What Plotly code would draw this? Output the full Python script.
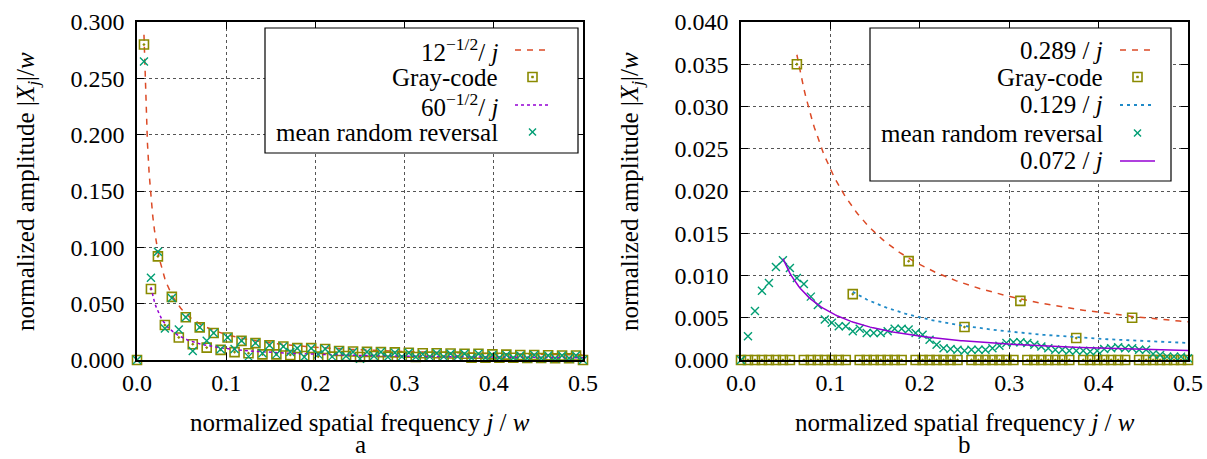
import plotly.graph_objects as go

# ---------------- data ----------------
w = 128
j = list(range(65))                      # spatial frequency index 0..64
tick_x = [0.0, 0.1, 0.2, 0.3, 0.4, 0.5]

# panel a
gray_a = [0, 0.280, 0.063, 0.092, 0.031, 0.056, 0.020, 0.038, 0.014, 0.029,
          0.011, 0.024, 0.009, 0.020, 0.007, 0.017, 0.006, 0.015, 0.005, 0.013,
          0.005, 0.012, 0.0045, 0.0105, 0.0035, 0.0105, 0.003, 0.0098, 0.003, 0.008,
          0.0035, 0.0075, 0.0027, 0.0072, 0.0035, 0.007, 0.003, 0.0068, 0.003, 0.0065,
          0.0027, 0.006, 0.003, 0.006, 0.003, 0.0058, 0.003, 0.0056, 0.002, 0.0055,
          0.002, 0.005, 0.002, 0.0048, 0.002, 0.0045, 0.0018, 0.0045, 0.0018, 0.0042,
          0.0016, 0.004, 0.0016, 0.004, 0]
random_a = [0, 0.265, 0.073, 0.096, 0.028, 0.055, 0.027, 0.038, 0.008, 0.029,
            0.017, 0.024, 0.0095, 0.020, 0.0098, 0.017, 0.003, 0.015, 0.006, 0.013,
            0.005, 0.012, 0.007, 0.0105, 0.0027, 0.0105, 0.005, 0.0098, 0.003, 0.008,
            0.0035, 0.007, 0.001, 0.007, 0.0035, 0.007, 0.0027, 0.0065, 0.003, 0.0065,
            0.0027, 0.005, 0.003, 0.006, 0.003, 0.0055, 0.003, 0.0055, 0.002, 0.0055,
            0.002, 0.0045, 0.002, 0.0045, 0.002, 0.004, 0.0015, 0.0045, 0.0015, 0.004,
            0.0015, 0.004, 0.0015, 0.004, 0]
coef_a = [12 ** -0.5, 60 ** -0.5]        # 12^-1/2 / j , 60^-1/2 / j
start_a = [1, 2]
tick_y_a = [0.0, 0.05, 0.10, 0.15, 0.20, 0.25, 0.30]

# panel b
gray_b = [0, 0, 0, 0, 0, 0, 0, 0, 0.035, 0,
          0, 0, 0, 0, 0, 0, 0.0078, 0, 0, 0,
          0, 0, 0, 0, 0.0117, 0, 0, 0, 0, 0,
          0, 0, 0.0039, 0, 0, 0, 0, 0, 0, 0,
          0.0070, 0, 0, 0, 0, 0, 0, 0, 0.0026, 0,
          0, 0, 0, 0, 0, 0, 0.0050, 0, 0, 0,
          0, 0, 0, 0, 0]
random_b = [0, 0.0028, 0.0058, 0.0082, 0.0091, 0.011, 0.0118, 0.0109, 0.0097, 0.009,
            0.0075, 0.0065, 0.0048, 0.0044, 0.0040, 0.0040, 0.0034, 0.0037, 0.0032, 0.0032,
            0.0032, 0.0034, 0.0037, 0.0037, 0.0036, 0.0032, 0.003, 0.0024, 0.0018, 0.0014,
            0.0013, 0.0012, 0.0011, 0.0012, 0.0012, 0.0012, 0.0014, 0.0017, 0.002, 0.0021,
            0.0021, 0.002, 0.0018, 0.0016, 0.0014, 0.0012, 0.0012, 0.0011, 0.0011, 0.0011,
            0.001, 0.0011, 0.0013, 0.0014, 0.0015, 0.0014, 0.0014, 0.0012, 0.0012, 0.0007,
            0.0006, 0.0004, 0.0004, 0.0004, 0.0002]
coef_b = [0.289, 0.129, 0.072]
start_b = [8, 16, 6]
tick_y_b = [0.0, 0.005, 0.010, 0.015, 0.020, 0.025, 0.030, 0.035, 0.040]

# ---------------- style ----------------
W, H = 1207, 459
FONT = "Liberation Serif"
FS = 25
FST = 24
RED = "#dc4a26"
OLIVE = "#8a8a00"
PURPLE = "#9400d3"
GREEN = "#009e73"
BLUE = "#1f8ac8"

PA = (137, 583)   # pixel x-extent panel a
PB = (741, 1188)  # pixel x-extent panel b
PY = (22, 360)    # pixel y-extent (top, bottom)

x_vals = [jj / w for jj in j]


def curve(c, j0):
    js = [j0 + k * 0.25 for k in range(int((64 - j0) / 0.25) + 1)]
    return [q / w for q in js], [c / q for q in js]


fig = go.Figure()


def add(tr, panel):
    tr.update(xaxis="x" if panel == "a" else "x2", yaxis="y" if panel == "a" else "y2",
              showlegend=False, cliponaxis=False, hoverinfo="skip")
    fig.add_trace(tr)


sq = dict(symbol="square-open-dot", size=9, color=OLIVE, line=dict(width=1.6, color=OLIVE))
cr = dict(symbol="x-thin-open", size=8, color=GREEN, line=dict(width=1.4, color=GREEN))

# panel a
cx, cy = curve(coef_a[0], start_a[0])
add(go.Scatter(x=cx, y=cy, mode="lines", line=dict(color=RED, width=1.5, dash="6px,6px")), "a")
add(go.Scatter(x=x_vals, y=gray_a, mode="markers", marker=sq), "a")
cx, cy = curve(coef_a[1], start_a[1])
add(go.Scatter(x=cx, y=cy, mode="lines", line=dict(color=PURPLE, width=1.5, dash="3px,3px")), "a")
add(go.Scatter(x=x_vals, y=random_a, mode="markers", marker=cr), "a")

# panel b
cx, cy = curve(coef_b[0], start_b[0])
add(go.Scatter(x=cx, y=cy, mode="lines", line=dict(color=RED, width=1.5, dash="6px,6px")), "b")
add(go.Scatter(x=x_vals, y=gray_b, mode="markers", marker=sq), "b")
cx, cy = curve(coef_b[1], start_b[1])
add(go.Scatter(x=cx, y=cy, mode="lines", line=dict(color=BLUE, width=1.8, dash="3px,4px")), "b")
add(go.Scatter(x=x_vals, y=random_b, mode="markers", marker=cr), "b")
cx, cy = curve(coef_b[2], start_b[2])
add(go.Scatter(x=cx, y=cy, mode="lines", line=dict(color=PURPLE, width=1.5)), "b")

# ---------------- custom gnuplot-style legends (paper-space shapes) ----------------
annotations = []
shapes = []


def PX(p):
    return p / W


def PYf(p):
    return 1 - p / H


def pline(x0, y0, x1, y1, color, width, dash="solid"):
    shapes.append(dict(type="line", xref="paper", yref="paper", layer="above",
                       x0=PX(x0), y0=PYf(y0), x1=PX(x1), y1=PYf(y1),
                       line=dict(color=color, width=width, dash=dash)))


def legend(box, rows, text_right, s0, s1):
    bx0, by0, bx1, by1 = box
    shapes.append(dict(type="rect", xref="paper", yref="paper", layer="above",
                       x0=PX(bx0), x1=PX(bx1), y0=PYf(by1), y1=PYf(by0),
                       fillcolor="white", line=dict(color="black", width=1.2)))
    for (label, kind, style, py) in rows:
        annotations.append(dict(x=PX(text_right), y=PYf(py), xref="paper", yref="paper",
                                xanchor="right", yanchor="middle", text=label, showarrow=False,
                                font=dict(family=FONT, size=FS, color="black")))
        cxp = (s0 + s1) / 2
        if kind == "line":
            pline(s0, py, s1, py, style["color"], style["width"], style.get("dash", "solid"))
        elif kind == "square":
            shapes.append(dict(type="rect", xref="paper", yref="paper", layer="above",
                               x0=PX(cxp - 4.5), x1=PX(cxp + 4.5), y0=PYf(py + 4.5), y1=PYf(py - 4.5),
                               line=dict(color=OLIVE, width=1.6)))
            shapes.append(dict(type="rect", xref="paper", yref="paper", layer="above",
                               x0=PX(cxp - 1), x1=PX(cxp + 1), y0=PYf(py + 1), y1=PYf(py - 1),
                               fillcolor=OLIVE, line=dict(color=OLIVE, width=0.5)))
        else:
            pline(cxp - 3.5, py - 3.5, cxp + 3.5, py + 3.5, GREEN, 1.4)
            pline(cxp - 3.5, py + 3.5, cxp + 3.5, py - 3.5, GREEN, 1.4)


legend((265, 28, 578, 153), [
    ("12<sup>−1/2</sup>/ <i>j</i>", "line", dict(color=RED, width=1.5, dash="6px,6px"), 50),
    ("Gray-code", "square", None, 77),
    ("60<sup>−1/2</sup>/ <i>j</i>", "line", dict(color=PURPLE, width=1.5, dash="3px,3px"), 105),
    ("mean random reversal", "cross", None, 132),
], 500, 515, 550)

legend((870, 28, 1171, 181), [
    ("0.289 / <i>j</i>", "line", dict(color=RED, width=1.5, dash="6px,6px"), 50),
    ("Gray-code", "square", None, 77),
    ("0.129 / <i>j</i>", "line", dict(color=BLUE, width=1.8, dash="3px,4px"), 105),
    ("mean random reversal", "cross", None, 133),
    ("0.072 / <i>j</i>", "line", dict(color=PURPLE, width=1.5), 161),
], 1105, 1120, 1155)

# axis titles and panel letters
for cxp in [(PA[0] + PA[1]) / 2, (PB[0] + PB[1]) / 2]:
    annotations.append(dict(x=PX(cxp), y=PYf(422), xref="paper", yref="paper",
                            xanchor="center", yanchor="middle", showarrow=False,
                            text="normalized spatial frequency <i>j</i> / <i>w</i>",
                            font=dict(family=FONT, size=FS, color="black")))
for cxp, letter in [((PA[0] + PA[1]) / 2, "a"), ((PB[0] + PB[1]) / 2, "b")]:
    annotations.append(dict(x=PX(cxp), y=0, xref="paper", yref="paper",
                            xanchor="center", yanchor="bottom", showarrow=False, text=letter,
                            borderpad=0,
                            font=dict(family=FONT, size=FS, color="black")))
for xp in [27, 631]:
    annotations.append(dict(x=PX(xp), y=PYf(192), xref="paper", yref="paper",
                            xanchor="center", yanchor="middle", showarrow=False, textangle=-90,
                            text="normalized amplitude |<i>X<sub>j</sub></i>|/<i>w</i>",
                            font=dict(family=FONT, size=FS, color="black")))

axis_common = dict(showline=True, linecolor="black", linewidth=1.5, mirror="allticks",
                   ticks="inside", ticklen=7, tickwidth=1.2, tickcolor="black",
                   showgrid=True, gridcolor="#555555", griddash="dot", gridwidth=1,
                   zeroline=False, automargin=False,
                   tickfont=dict(family=FONT, size=FST, color="black"))

ydom = [1 - PY[1] / H, 1 - PY[0] / H]
fig.update_layout(
    width=W, height=H, margin=dict(l=0, r=0, t=0, b=0, pad=0), autosize=False,
    paper_bgcolor="white", plot_bgcolor="white", showlegend=False,
    font=dict(family=FONT, size=FS, color="black"),
    xaxis=dict(domain=[PA[0] / W, PA[1] / W], range=[0, 0.5], anchor="y",
               tickvals=tick_x, tickformat=".1f", **axis_common),
    yaxis=dict(domain=ydom, range=[0, 0.3], anchor="x",
               tickvals=tick_y_a, tickformat=".3f", ticklabelstandoff=6, **axis_common),
    xaxis2=dict(domain=[PB[0] / W, PB[1] / W], range=[0, 0.5], anchor="y2",
                tickvals=tick_x, tickformat=".1f", **axis_common),
    yaxis2=dict(domain=ydom, range=[0, 0.04], anchor="x2",
                tickvals=tick_y_b, tickformat=".3f", ticklabelstandoff=6, **axis_common),
    annotations=annotations, shapes=shapes,
)

fig.write_html("out.html")
